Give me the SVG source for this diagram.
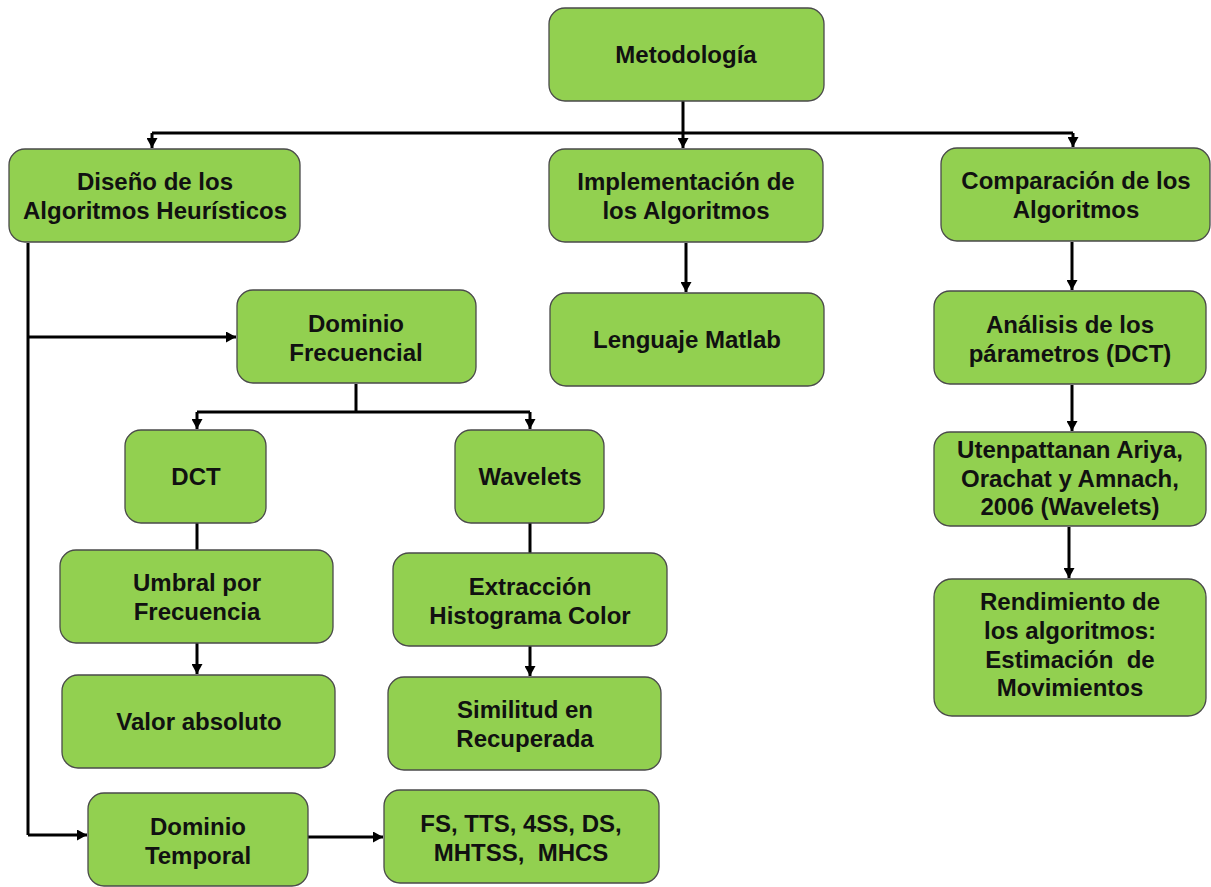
<svg xmlns="http://www.w3.org/2000/svg" width="1211" height="887" viewBox="0 0 1211 887">
<defs>
<marker id="ah" markerUnits="userSpaceOnUse" markerWidth="11" markerHeight="11" refX="10" refY="5.5" orient="auto">
<path d="M0,0 L10,5.5 L0,11 z" fill="#000"/>
</marker>
<style>
.box{fill:#92D050;stroke:#4a4a4a;stroke-width:1.3}
.t{font-family:"Liberation Sans",Arial,sans-serif;font-weight:bold;font-size:24px;fill:#111;text-anchor:middle;white-space:pre}
.c{fill:none;stroke:#000;stroke-width:3}
.a{fill:none;stroke:#000;stroke-width:3;marker-end:url(#ah)}
</style>
</defs>
<rect width="1211" height="887" fill="#fff"/>
<g id="connectors">
<path class="c" d="M683,101 V133"/>
<path class="c" d="M152,133 H1073"/>
<path class="a" d="M152,133 V148"/>
<path class="a" d="M683,133 V148"/>
<path class="a" d="M1073,133 V147"/>
<path class="a" d="M686,243 V292"/>
<path class="a" d="M1072,242 V290"/>
<path class="a" d="M1072,385 V431"/>
<path class="a" d="M1069,527 V578"/>
<path class="c" d="M28,243 V835"/>
<path class="a" d="M28,337 H236"/>
<path class="a" d="M28,835 H87"/>
<path class="c" d="M356,384 V412"/>
<path class="c" d="M197,412 H530"/>
<path class="a" d="M197,412 V429"/>
<path class="a" d="M530,412 V429"/>
<path class="c" d="M197,523 V550"/>
<path class="a" d="M197,643 V674"/>
<path class="c" d="M530,523 V553"/>
<path class="a" d="M530,646 V676"/>
<path class="a" d="M308,837 H383"/>
</g>
<g id="n-metodologia"><rect class="box" x="549" y="8" width="275" height="93" rx="16"/><text class="t" x="686" y="63">Metodología</text></g>
<g id="n-diseno"><rect class="box" x="9" y="149" width="291" height="93" rx="16"/><text class="t" x="155" y="190">Diseño de los</text><text class="t" x="155" y="219">Algoritmos Heurísticos</text></g>
<g id="n-implementacion"><rect class="box" x="549" y="149" width="274" height="93" rx="16"/><text class="t" x="686" y="190">Implementación de</text><text class="t" x="686" y="219">los Algoritmos</text></g>
<g id="n-comparacion"><rect class="box" x="941" y="148" width="269" height="93" rx="16"/><text class="t" x="1076" y="189">Comparación de los</text><text class="t" x="1076" y="218">Algoritmos</text></g>
<g id="n-frecuencial"><rect class="box" x="237" y="290" width="239" height="93" rx="16"/><text class="t" x="356" y="332">Dominio</text><text class="t" x="356" y="361">Frecuencial</text></g>
<g id="n-matlab"><rect class="box" x="550" y="293" width="274" height="93" rx="16"/><text class="t" x="687" y="348">Lenguaje Matlab</text></g>
<g id="n-analisis"><rect class="box" x="934" y="291" width="272" height="93" rx="16"/><text class="t" x="1070" y="333">Análisis de los</text><text class="t" x="1070" y="362">párametros (DCT)</text></g>
<g id="n-utenpattanan"><rect class="box" x="934" y="432" width="272" height="94" rx="16"/><text class="t" x="1070" y="458">Utenpattanan Ariya,</text><text class="t" x="1070" y="487">Orachat y Amnach,</text><text class="t" x="1070" y="515">2006 (Wavelets)</text></g>
<g id="n-rendimiento"><rect class="box" x="934" y="579" width="272" height="137" rx="18"/><text class="t" x="1070" y="610">Rendimiento de</text><text class="t" x="1070" y="639">los algoritmos:</text><text class="t" x="1070" y="668" xml:space="preserve">Estimación  de</text><text class="t" x="1070" y="696">Movimientos</text></g>
<g id="n-dct"><rect class="box" x="125" y="430" width="141" height="93" rx="16"/><text class="t" x="196" y="485">DCT</text></g>
<g id="n-wavelets"><rect class="box" x="455" y="430" width="149" height="93" rx="16"/><text class="t" x="530" y="485">Wavelets</text></g>
<g id="n-umbral"><rect class="box" x="60" y="550" width="273" height="93" rx="16"/><text class="t" x="197" y="591">Umbral por</text><text class="t" x="197" y="620">Frecuencia</text></g>
<g id="n-extraccion"><rect class="box" x="393" y="553" width="274" height="93" rx="16"/><text class="t" x="530" y="595">Extracción</text><text class="t" x="530" y="624">Histograma Color</text></g>
<g id="n-valor"><rect class="box" x="62" y="675" width="273" height="93" rx="16"/><text class="t" x="199" y="730">Valor absoluto</text></g>
<g id="n-similitud"><rect class="box" x="388" y="677" width="273" height="93" rx="16"/><text class="t" x="525" y="718">Similitud en</text><text class="t" x="525" y="747">Recuperada</text></g>
<g id="n-temporal"><rect class="box" x="88" y="793" width="220" height="93" rx="16"/><text class="t" x="198" y="835">Dominio</text><text class="t" x="198" y="864">Temporal</text></g>
<g id="n-fs"><rect class="box" x="384" y="790" width="275" height="93" rx="16"/><text class="t" x="521" y="832">FS, TTS, 4SS, DS,</text><text class="t" x="521" y="861" xml:space="preserve">MHTSS,  MHCS</text></g>
</svg>
